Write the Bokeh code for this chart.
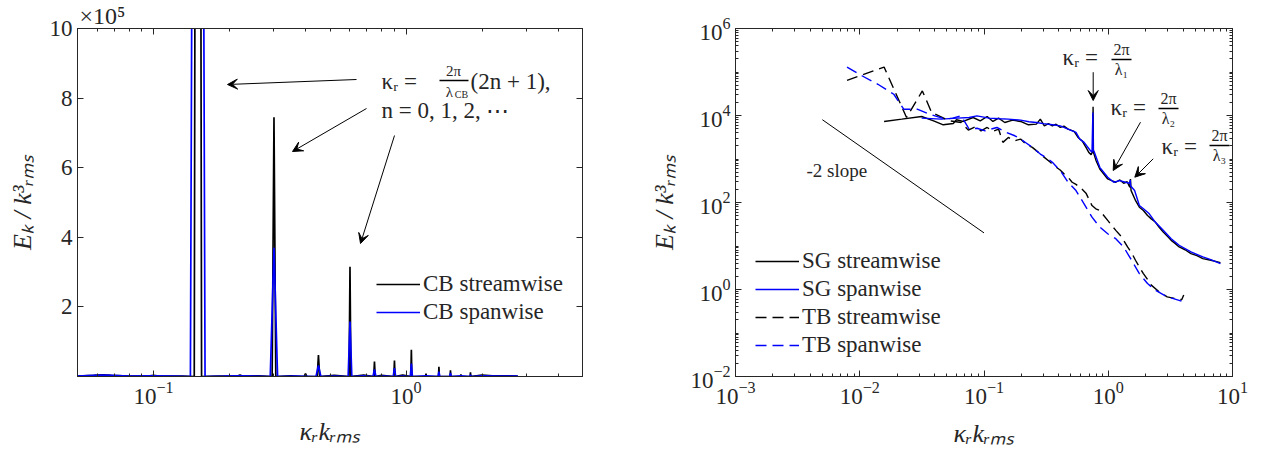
import numpy as np
from bokeh.plotting import figure
from bokeh.layouts import row
from bokeh.models import (FixedTicker, LinearAxis, LogAxis, Legend, LegendItem, Title,
                          Label, Arrow, VeeHead, LogTickFormatter, CustomJSTickFormatter)
from bokeh.embed import file_html
from bokeh.resources import INLINE

FONT = "Liberation Serif"
TXT = "#262626"
BLUE = "#0000ff"

# ---------------- Left panel: CB spectra (values in units of 1e5) ----------------
cb_stream_kr = [0.05, 0.058, 0.063, 0.068, 0.08, 0.095, 0.1, 0.105, 0.13, 0.145, 0.15, 0.155,
                0.18, 0.215, 0.22, 0.225, 0.26, 0.295, 0.30, 0.305, 0.35, 0.395, 0.40, 0.405,
                0.445, 0.45, 0.455, 0.52, 0.595, 0.60, 0.605, 0.68, 0.745, 0.75, 0.755, 0.8,
                0.895, 0.9, 0.905, 0.97, 1.045, 1.05, 1.055, 1.195, 1.2, 1.205, 1.345, 1.35,
                1.355, 1.495, 1.5, 1.505, 1.645, 1.65, 1.655, 1.795, 1.8, 1.805, 2.0, 2.2, 2.5, 2.77]
cb_stream_e = [0.01, 0.03, 0.05, 0.03, 0.01, 0.01, 0.03, 0.01, 0.01, 0.0, 60.0, 0.0,
               0.01, 0.01, 0.04, 0.01, 0.02, 0.0, 7.45, 0.0, 0.02, 0.0, 0.08, 0.0,
               0.0, 0.62, 0.0, 0.03, 0.0, 3.15, 0.0, 0.04, 0.0, 0.43, 0.0, 0.03,
               0.0, 0.46, 0.0, 0.04, 0.0, 0.77, 0.0, 0.0, 0.08, 0.0, 0.0, 0.28,
               0.0, 0.0, 0.18, 0.0, 0.0, 0.06, 0.0, 0.0, 0.12, 0.0, 0.04, 0.02, 0.02, 0.01]
cb_span_kr = [0.05, 0.058, 0.063, 0.068, 0.08, 0.1, 0.12, 0.14, 0.15, 0.16, 0.19, 0.22, 0.25,
              0.29, 0.30, 0.31, 0.36, 0.44, 0.45, 0.46, 0.52, 0.59, 0.60, 0.61, 0.68, 0.74,
              0.75, 0.76, 0.82, 0.89, 0.90, 0.91, 0.97, 1.04, 1.05, 1.06, 1.2, 1.34, 1.35,
              1.36, 1.49, 1.5, 1.51, 1.65, 1.79, 1.8, 1.81, 2.0, 2.3, 2.77]
cb_span_e = [0.01, 0.03, 0.04, 0.03, 0.01, 0.02, 0.01, 0.0, 60.0, 0.0, 0.01, 0.02, 0.01,
             0.0, 3.70, 0.0, 0.01, 0.0, 0.32, 0.0, 0.01, 0.0, 1.58, 0.0, 0.02, 0.0,
             0.20, 0.0, 0.01, 0.0, 0.24, 0.0, 0.01, 0.0, 0.37, 0.0, 0.02, 0.0, 0.14,
             0.0, 0.0, 0.10, 0.0, 0.02, 0.0, 0.05, 0.0, 0.02, 0.01, 0.01]
left_xticks = [0.1, 1.0]
left_yticks = [0, 2, 4, 6, 8, 10]

# ---------------- Right panel: SG / TB spectra ----------------
sg_stream_kr = [0.0157, 0.0218, 0.0315, 0.0393, 0.047, 0.0566, 0.060, 0.068, 0.0817, 0.0933,
                0.106, 0.118, 0.131, 0.147, 0.170, 0.197, 0.228, 0.264, 0.284, 0.306, 0.330,
                0.355, 0.38, 0.411, 0.44, 0.475, 0.531, 0.571, 0.615, 0.662, 0.697, 0.728,
                0.750, 0.755, 0.760, 0.80, 0.855, 0.92, 0.99, 1.066, 1.15, 1.24, 1.33, 1.42,
                1.49, 1.51, 1.525, 1.66, 1.78, 1.918, 2.07, 2.22, 2.39, 2.57, 2.77, 2.98, 3.21,
                3.45, 3.72, 4.15, 4.63, 5.17, 5.77, 6.7, 8.0]
sg_stream_e = [7290, 8240, 9480, 7550, 6110, 6560, 8000, 7290, 9000, 7550, 9480, 7290, 8690,
               6920, 7810, 7290, 6110, 6340, 8240, 5790, 6500, 5790, 6300, 5310, 5700, 4870,
               4300, 3130, 2630, 1850, 1420, 1260, 1500, 15800, 1420, 900, 590, 453, 348, 319,
               292, 330, 277, 300, 224, 348, 190, 110, 78, 65.6, 50.4, 42, 35.5, 27, 20.9, 17,
               13.5, 11.5, 9.5, 8.2, 6.67, 6.0, 5.13, 4.7, 4.15]
sg_span_kr = [0.0315, 0.0452, 0.061, 0.0759, 0.0877, 0.11, 0.135, 0.157, 0.197, 0.23, 0.264,
              0.3, 0.355, 0.411, 0.475, 0.55, 0.59, 0.639, 0.712, 0.74, 0.752, 0.758, 0.766,
              0.855, 0.99, 1.107, 1.236, 1.378, 1.48, 1.505, 1.515, 1.63, 1.78, 1.92, 2.14,
              2.39, 2.77, 3.21, 3.72, 4.63, 5.77, 6.68, 8.0]
sg_span_e = [8690, 8240, 8690, 9000, 9820, 8690, 8400, 8240, 7810, 7200, 6920, 6500, 6110,
             5790, 4870, 4080, 2870, 2410, 1610, 1420, 11700, 1500, 1550, 644, 380, 292, 319,
             292, 277, 330, 240, 188, 85, 71.6, 55, 35.5, 22.9, 14.7, 10.4, 7.3, 5.6, 4.87, 3.94]
tb_stream_kr = [0.0079, 0.0157, 0.0238, 0.0319, 0.0379, 0.0526, 0.0656, 0.0748, 0.0847, 0.0946,
                0.106, 0.118, 0.131, 0.142, 0.157, 0.177, 0.197, 0.22, 0.245, 0.274, 0.306,
                0.342, 0.382, 0.41, 0.442, 0.475, 0.512, 0.55, 0.593, 0.662, 0.74, 0.794, 0.855,
                0.92, 0.99, 1.066, 1.15, 1.282, 1.43, 1.54, 1.656, 1.78, 1.918, 2.07, 2.22,
                2.57, 2.98, 3.45, 3.9, 4.05]
tb_stream_e = [64400, 130000, 9000, 36700, 11700, 7550, 6920, 4610, 5500, 4450, 5310, 4300,
               4870, 2410, 3130, 2630, 2870, 2130, 1850, 1420, 1090, 839, 646, 560, 453, 380,
               292, 260, 224, 164, 85, 71.6, 65.6, 50.4, 38.7, 29.7, 22.9, 16.1, 9.5, 7.0, 4.7,
               3.3, 2.32, 1.7, 1.26, 0.885, 0.679, 0.622, 0.58, 0.75]
tb_span_kr = [0.0079, 0.0105, 0.014, 0.0188, 0.0226, 0.029, 0.0365, 0.0489, 0.056, 0.0656,
              0.0759, 0.088, 0.102, 0.127, 0.152, 0.177, 0.197, 0.22, 0.245, 0.284, 0.32,
              0.355, 0.411, 0.475, 0.55, 0.639, 0.74, 0.855, 0.99, 1.15, 1.33, 1.54, 1.78,
              2.07, 2.39, 2.98, 3.45, 4.05]
tb_span_e = [130000, 80900, 52200, 30800, 13960, 13960, 10700, 8240, 8700, 9820, 4870, 5100,
             4450, 5310, 4080, 3420, 2870, 2300, 1850, 1300, 1050, 839, 541, 292, 188, 93,
             46.1, 27.2, 19.1, 14.7, 9.5, 4.7, 2.32, 1.37, 0.966, 0.679, 0.601, 0.522]
slope_kr = [0.005, 0.1]
slope_e = [8000, 20]
right_xticks = [1e-3, 1e-2, 1e-1, 1.0, 10.0]
right_yticks = [1e-2, 1.0, 1e2, 1e4, 1e6]


def style(ax, show=True):
    ax.axis_line_color = TXT
    ax.major_tick_line_color = TXT
    ax.minor_tick_line_color = TXT
    ax.major_tick_in = 6
    ax.major_tick_out = 0
    ax.minor_tick_in = 3
    ax.minor_tick_out = 0
    ax.major_label_text_font = FONT
    ax.major_label_text_font_size = "23px"
    ax.major_label_text_color = TXT
    ax.axis_label_text_font = FONT
    ax.axis_label_text_font_size = "26px"
    ax.axis_label_text_font_style = "italic"
    ax.axis_label_text_color = TXT
    if not show:
        ax.formatter = CustomJSTickFormatter(code="return ''")
        ax.major_label_text_font_size = "2px"
        ax.major_label_standoff = 0


def base_fig(**kw):
    p = figure(output_backend="svg", toolbar_location=None, frame_height=348,
               min_border_top=28, min_border_bottom=77, **kw)
    p.grid.visible = False
    p.outline_line_color = TXT
    p.outline_line_width = 1
    p.background_fill_color = "white"
    p.border_fill_color = "white"
    return p


def legend_style(lg):
    lg.label_text_font = FONT
    lg.label_text_font_size = "23px"
    lg.label_text_color = TXT
    lg.glyph_width = 44
    lg.glyph_height = 24
    lg.label_height = 24
    lg.label_standoff = 3
    lg.spacing = 2
    lg.padding = 0
    lg.margin = 0
    lg.border_line_alpha = 0
    lg.background_fill_alpha = 0


def lpx(px, py):
    return 10 ** (np.log10(0.05) + (px - 77) / 505 * 2), (376 - py) / 348 * 10


def rpx(px, py):
    return 10 ** (-3 + (px - 735) / 497 * 4), 10 ** (6 - (py - 28) / 348 * 8)


def add_text(p, conv, px, py, text, size, align="left"):
    x, y = conv(px, py)
    p.add_layout(Label(x=x, y=y, text=text, text_font=FONT, text_font_size=size,
                       text_color=TXT, text_align=align, text_baseline="middle"))


def add_arrow(p, conv, p0, p1_):
    x0, y0 = conv(*p0)
    x1, y1 = conv(*p1_)
    p.add_layout(Arrow(end=VeeHead(size=10, fill_color="black", line_color="black"),
                       x_start=x0, y_start=y0, x_end=x1, y_end=y1,
                       line_color="black", line_width=1))


def add_bar(p, conv, p0, p1_):
    x0, y0 = conv(*p0)
    x1, y1 = conv(*p1_)
    p.line(x=[x0, x1], y=[y0, y1], line_color="black", line_width=1.3)


# ======================= LEFT =======================
p1 = base_fig(x_axis_type="log", x_range=(0.05, 5), y_range=(0, 10), frame_width=505,
              min_border_left=77, min_border_right=58)

lx_minor = [m * 10.0 ** e for e in (-2, -1, 0) for m in range(2, 10) if 0.05 <= m * 10.0 ** e <= 5]
lx_ticker = FixedTicker(ticks=left_xticks, minor_ticks=lx_minor)
ly_ticker = FixedTicker(ticks=left_yticks, minor_ticks=[])

p1.xaxis.ticker = lx_ticker
p1.xaxis.formatter = LogTickFormatter()
p1.yaxis.ticker = ly_ticker
p1.yaxis.major_label_overrides = {0: ""}
p1.xaxis.axis_label = "κᵣkᵣₘₛ"
p1.yaxis.axis_label = "Eₖ / k³ᵣₘₛ"
for ax in p1.xaxis + p1.yaxis:
    style(ax)
p1.xaxis.axis_label_standoff = 10
p1.yaxis.axis_label_standoff = 10

top1 = LogAxis(ticker=lx_ticker)
style(top1, False)
p1.add_layout(top1, "above")
right1 = LinearAxis(ticker=ly_ticker)
style(right1, False)
p1.add_layout(right1, "right")

p1.add_layout(Title(text="×10⁵", align="left", offset=2, standoff=0, text_font=FONT,
                    text_font_size="24px", text_line_height=0.8, text_color=TXT,
                    text_font_style="normal"), "above")

l_st = p1.line(cb_stream_kr, cb_stream_e, color="black", line_width=1.7)
l_sp = p1.line(cb_span_kr, cb_span_e, color=BLUE, line_width=1.7)

leg1 = Legend(items=[LegendItem(label="CB streamwise", renderers=[l_st]),
                     LegendItem(label="CB spanwise", renderers=[l_sp])],
              location=(299, 51))
legend_style(leg1)
p1.add_layout(leg1)

# left annotations
add_arrow(p1, lpx, (356, 79), (227, 84))
add_arrow(p1, lpx, (366, 108), (292, 151))
add_arrow(p1, lpx, (394, 135), (360, 243))
add_text(p1, lpx, 381, 81, "κᵣ =", "23px")
add_text(p1, lpx, 453, 70, "2π", "15px", "center")
add_bar(p1, lpx, (439, 80), (468, 80))
add_text(p1, lpx, 449, 91, "λ", "15px", "center")
add_text(p1, lpx, 461, 94, "CB", "10px", "center")
add_text(p1, lpx, 470, 81, "(2n + 1),", "23px")
add_text(p1, lpx, 381, 110, "n = 0, 1, 2, ⋯", "23px")

# ======================= RIGHT =======================
p2 = base_fig(x_axis_type="log", y_axis_type="log", x_range=(1e-3, 10), y_range=(1e-2, 1e6),
              frame_width=497, min_border_left=95, min_border_right=29)

rx_minor = [m * 10.0 ** e for e in range(-3, 1) for m in range(2, 10)]
ry_minor = [m * 10.0 ** e for e in range(-2, 6) for m in range(1, 10) if not (m == 1 and e % 2 == 0)]
rx_ticker = FixedTicker(ticks=right_xticks, minor_ticks=rx_minor)
ry_ticker = FixedTicker(ticks=right_yticks, minor_ticks=ry_minor)
p2.xaxis.ticker = rx_ticker
p2.yaxis.ticker = ry_ticker
p2.xaxis.formatter = LogTickFormatter()
p2.yaxis.formatter = LogTickFormatter()
p2.xaxis.axis_label = "κᵣkᵣₘₛ"
p2.yaxis.axis_label = "Eₖ / k³ᵣₘₛ"
for ax in p2.xaxis + p2.yaxis:
    style(ax)
p2.xaxis.axis_label_standoff = 12
p2.yaxis.axis_label_standoff = 8

top2 = LogAxis(ticker=rx_ticker)
style(top2, False)
p2.add_layout(top2, "above")
right2 = LogAxis(ticker=ry_ticker)
style(right2, False)
p2.add_layout(right2, "right")

r_sgst = p2.line(sg_stream_kr, sg_stream_e, color="black", line_width=1.4)
r_sgsp = p2.line(sg_span_kr, sg_span_e, color=BLUE, line_width=1.4)
r_tbst = p2.line(tb_stream_kr, tb_stream_e, color="black", line_width=1.4, line_dash="11 6")
r_tbsp = p2.line(tb_span_kr, tb_span_e, color=BLUE, line_width=1.4, line_dash="11 6")
p2.line(slope_kr, slope_e, color="black", line_width=1)

leg2 = Legend(items=[LegendItem(label="SG streamwise", renderers=[r_sgst]),
                     LegendItem(label="SG spanwise", renderers=[r_sgsp]),
                     LegendItem(label="TB streamwise", renderers=[r_tbst]),
                     LegendItem(label="TB spanwise", renderers=[r_tbsp])],
              location=(20, 18))
legend_style(leg2)
p2.add_layout(leg2)

add_text(p2, rpx, 806, 170, "-2 slope", "19px")

for (tx, ty, fx, fy, sub, a0, a1) in [
        (1062, 57, 1121, 59, "λ₁", (1092.7, 71.7), (1092.7, 100)),
        (1110, 107, 1168, 108, "λ₂", (1140, 121.7), (1112.7, 170)),
        (1161, 146, 1219, 145, "λ₃", (1152.7, 158.3), (1134.3, 176.7))]:
    add_text(p2, rpx, tx, ty, "κᵣ =", "23px")
    add_text(p2, rpx, fx, fy - 10, "2π", "16px", "center")
    add_bar(p2, rpx, (fx - 10, fy), (fx + 10, fy))
    add_text(p2, rpx, fx, fy + 10, sub, "16px", "center")
    add_arrow(p2, rpx, a0, a1)

layout = row(p1, p2)
open("out.html", "w").write(file_html(layout, INLINE))
